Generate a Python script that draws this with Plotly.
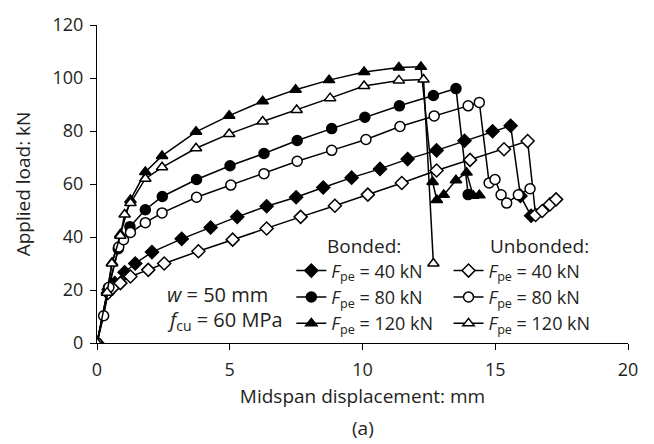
import plotly.graph_objects as go

# ---- data ----
b40_x = [0, 0.44, 0.67, 1.04, 1.44, 2.07, 3.19, 4.28, 5.28, 6.39, 7.50, 8.52, 9.59, 10.66, 11.70, 12.79, 13.84, 14.90, 15.58, 15.95, 16.35]
b40_y = [0, 20.2, 22.6, 26.7, 30.0, 34.3, 39.3, 43.6, 47.6, 51.6, 55.0, 58.7, 62.4, 65.7, 69.4, 72.7, 76.3, 79.9, 82.0, 55.5, 48.0]

b80_x = [0, 0.43, 0.80, 1.24, 1.82, 2.46, 3.75, 5.01, 6.29, 7.54, 8.84, 10.09, 11.39, 12.67, 13.52, 13.98]
b80_y = [0, 20.8, 35.6, 43.9, 50.3, 55.3, 61.7, 66.9, 71.5, 76.4, 80.9, 85.2, 89.5, 93.4, 96.0, 56.0]

b120_x = [0, 0.38, 0.57, 0.88, 1.26, 1.82, 2.45, 3.73, 4.98, 6.24, 7.48, 8.74, 10.06, 11.37, 12.20, 12.64, 12.80, 13.06, 13.52, 13.92, 14.17, 14.40]
b120_y = [0, 19.0, 30.3, 41.0, 54.0, 64.5, 70.6, 79.7, 85.8, 91.2, 95.6, 99.2, 102.3, 104.0, 104.2, 60.8, 54.0, 55.9, 61.4, 64.3, 55.6, 55.8]

u40_x = [0, 0.41, 0.59, 0.88, 1.26, 1.93, 2.53, 3.82, 5.11, 6.39, 7.67, 8.96, 10.20, 11.48, 12.79, 14.05, 15.33, 16.22, 16.52, 16.77, 17.06, 17.29]
u40_y = [0, 18.9, 20.8, 22.6, 25.1, 27.6, 30.0, 34.6, 39.0, 43.2, 47.6, 51.8, 56.0, 60.4, 65.1, 69.1, 73.1, 76.2, 48.3, 49.8, 52.3, 54.2]

u80_x = [0, 0.25, 0.45, 0.82, 1.00, 1.26, 1.82, 2.45, 3.75, 5.04, 6.29, 7.54, 8.84, 10.13, 11.41, 12.70, 13.98, 14.40, 14.77, 14.99, 15.22, 15.43, 15.87, 16.31]
u80_y = [0, 10.3, 21.0, 36.2, 39.0, 41.7, 45.4, 49.1, 55.0, 59.6, 63.9, 68.6, 72.7, 76.8, 81.7, 85.7, 89.5, 90.8, 60.4, 61.7, 55.9, 52.8, 55.9, 58.2]

u120_x = [0, 0.38, 0.56, 0.88, 1.04, 1.26, 1.82, 2.45, 3.73, 4.98, 6.24, 7.52, 8.78, 10.06, 11.37, 12.30, 12.67]
u120_y = [0, 19.0, 30.0, 40.5, 48.5, 52.8, 62.0, 66.3, 73.5, 78.9, 83.6, 87.9, 92.4, 97.0, 99.1, 99.4, 30.0]

labels = ["<i>F</i><sub>pe</sub> = 40 kN", "<i>F</i><sub>pe</sub> = 80 kN", "<i>F</i><sub>pe</sub> = 120 kN"]

x_ticks = [0, 5, 10, 15, 20]
y_ticks = [0, 20, 40, 60, 80, 100, 120]

FONT = "Open Sans"
TXT = "#231f20"

fig = go.Figure()

series = [
    (b40_x, b40_y, "diamond", labels[0], "legend"),
    (b80_x, b80_y, "circle", labels[1], "legend"),
    (b120_x, b120_y, "triangle-up", labels[2], "legend"),
    (u40_x, u40_y, "diamond-open", labels[0], "legend2"),
    (u80_x, u80_y, "circle-open", labels[1], "legend2"),
    (u120_x, u120_y, "triangle-up-open", labels[2], "legend2"),
]

for xs, ys, sym, name, lg in series:
    is_open = sym.endswith("open")
    base = sym.replace("-open", "")
    fig.add_trace(go.Scatter(
        x=xs, y=ys, mode="lines+markers", name=name, legend=lg,
        line=dict(color="#000000", width=1.5),
        marker=dict(symbol=base, size=10,
                    color="#ffffff" if is_open else "#000000",
                    line=dict(color="#000000", width=1.5)),
    ))

legend_common = dict(
    font=dict(family=FONT, size=18, color=TXT),
    bgcolor="rgba(0,0,0,0)", borderwidth=0,
    xanchor="left", yanchor="top", tracegroupgap=0,
    itemwidth=30, traceorder="normal",
)

fig.update_layout(
    width=654, height=444,
    margin=dict(l=97, r=26, t=15, b=101),
    paper_bgcolor="white", plot_bgcolor="white",
    font=dict(family=FONT, size=18, color=TXT),
    showlegend=True,
    legend=dict(x=0.366, y=0.285, **legend_common),
    legend2=dict(x=0.662, y=0.285, **legend_common),
    xaxis=dict(range=[0, 20], tickvals=x_ticks, showline=True, linecolor="#000", linewidth=1,
               ticks="outside", ticklen=6, tickcolor="#000", showgrid=False, zeroline=False,
               ticklabelstandoff=4,
               tickfont=dict(family=FONT, size=18, color=TXT),
               title=dict(text="Midspan displacement: mm", standoff=10,
                          font=dict(family=FONT, size=19, color=TXT))),
    yaxis=dict(range=[0, 120], tickvals=y_ticks, showline=True, linecolor="#000", linewidth=1,
               ticks="outside", ticklen=6, tickcolor="#000", showgrid=False, zeroline=False,
               ticklabelstandoff=3,
               tickfont=dict(family=FONT, size=18, color=TXT),
               title=dict(text="Applied load: kN", standoff=16,
                          font=dict(family=FONT, size=19, color=TXT))),
)

fig.add_annotation(text="(a)", xref="paper", yref="paper", x=0.5, y=-0.266,
                   xanchor="center", yanchor="middle", showarrow=False,
                   font=dict(family=FONT, size=19, color=TXT))
fig.add_annotation(text="Bonded:", xref="paper", yref="paper", x=0.429, y=0.304,
                   xanchor="left", yanchor="middle", showarrow=False,
                   font=dict(family=FONT, size=19, color=TXT))
fig.add_annotation(text="Unbonded:", xref="paper", yref="paper", x=0.736, y=0.304,
                   xanchor="left", yanchor="middle", showarrow=False,
                   font=dict(family=FONT, size=19, color=TXT))
fig.add_annotation(text="<i>w</i> = 50 mm", xref="paper", yref="paper", x=0.128, y=0.152,
                   xanchor="left", yanchor="middle", showarrow=False,
                   font=dict(family=FONT, size=20, color=TXT))
fig.add_annotation(text="<i>f</i><sub>cu</sub> = 60 MPa", xref="paper", yref="paper", x=0.128, y=0.072,
                   xanchor="left", yanchor="middle", showarrow=False,
                   font=dict(family=FONT, size=20, color=TXT))

fig.write_html("out.html")
